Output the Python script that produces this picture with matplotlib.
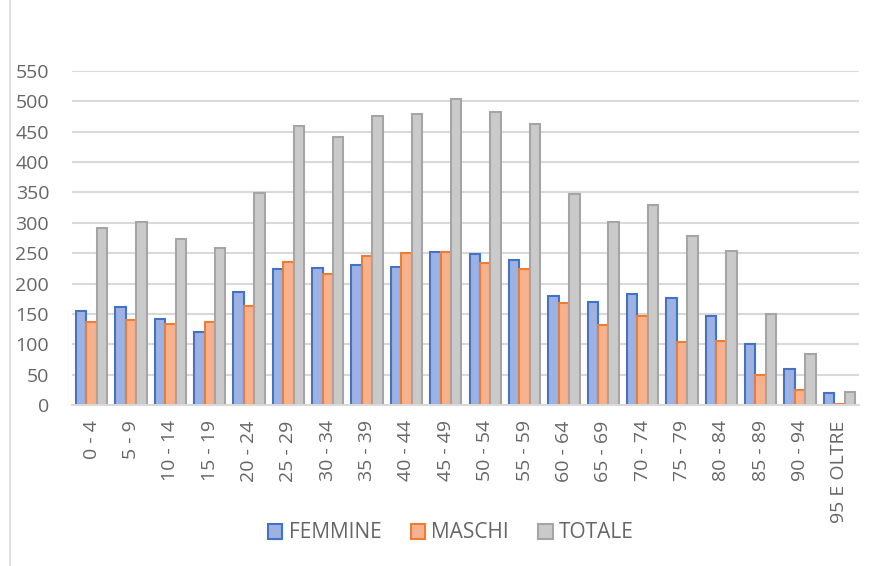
import numpy as np
import matplotlib
matplotlib.use("Agg")
import matplotlib.pyplot as plt
from matplotlib.lines import Line2D

# dati per fascia d'età
fasce = ["0 - 4", "5 - 9", "10 - 14", "15 - 19", "20 - 24", "25 - 29", "30 - 34",
         "35 - 39", "40 - 44", "45 - 49", "50 - 54", "55 - 59", "60 - 64", "65 - 69",
         "70 - 74", "75 - 79", "80 - 84", "85 - 89", "90 - 94", "95 E OLTRE"]
femmine = [155, 162, 141, 121, 186, 224, 226, 231, 228, 252,
           249, 238, 179, 169, 182, 176, 147, 100, 60, 20]
maschi = [137, 140, 133, 137, 163, 235, 216, 245, 251, 252,
          234, 224, 168, 132, 147, 103, 106, 50, 24, 2]
totale = [292, 302, 274, 258, 349, 459, 442, 476, 479, 504,
          483, 462, 347, 301, 329, 279, 253, 150, 84, 22]
yticks = list(range(0, 551, 50))

plt.rcParams['font.family'] = ['Open Sans', 'DejaVu Sans']
testo = '#666666'

fig = plt.figure(figsize=(8.69, 5.66), dpi=100)
ax = fig.add_axes([72 / 869, 1 - 405 / 566, 787 / 869, 334 / 566])

x = np.arange(len(fasce))
w = 0.265
serie = [
    (femmine, 'FEMMINE', '#9DB2E2', '#4472C4'),
    (maschi, 'MASCHI', '#F6B28E', '#ED7D31'),
    (totale, 'TOTALE', '#CACACA', '#A5A5A5'),
]
for i, (vals, nome, fc, ec) in enumerate(serie):
    ax.bar(x + (i - 1) * w, vals, width=w, color=fc, edgecolor=ec,
           linewidth=1.5, label=nome, zorder=3)

ax.set_xlim(-0.5, len(fasce) - 0.5)
ax.set_ylim(0, 550)
ax.set_yticks(yticks)
ax.set_xticks(x)
ax.set_xticklabels(fasce, rotation=90, va='top')
ax.tick_params(axis='both', length=0, colors=testo, labelsize=14)
ax.tick_params(axis='x', pad=11)
ax.tick_params(axis='y', pad=16.5)

ax.grid(axis='y', color='#D9D9D9', linewidth=1.5, zorder=0)
for s in ['top', 'right', 'left']:
    ax.spines[s].set_visible(False)
ax.spines['bottom'].set_color('#D9D9D9')
ax.spines['bottom'].set_linewidth(1.5)
ax.spines['bottom'].set_zorder(4)

# bordo sinistro del grafico
fig.add_artist(Line2D([10 / 869, 10 / 869], [0, 1], color='#D9D9D9', linewidth=1.2))

leg = fig.legend(loc='center', bbox_to_anchor=(451 / 869, 1 - 533 / 566), ncol=3,
                 frameon=False, fontsize=15, handlelength=0.7, handleheight=0.7,
                 handletextpad=0.3, columnspacing=1.4)
for t in leg.get_texts():
    t.set_color(testo)

fig.savefig('out.png', dpi=100)
